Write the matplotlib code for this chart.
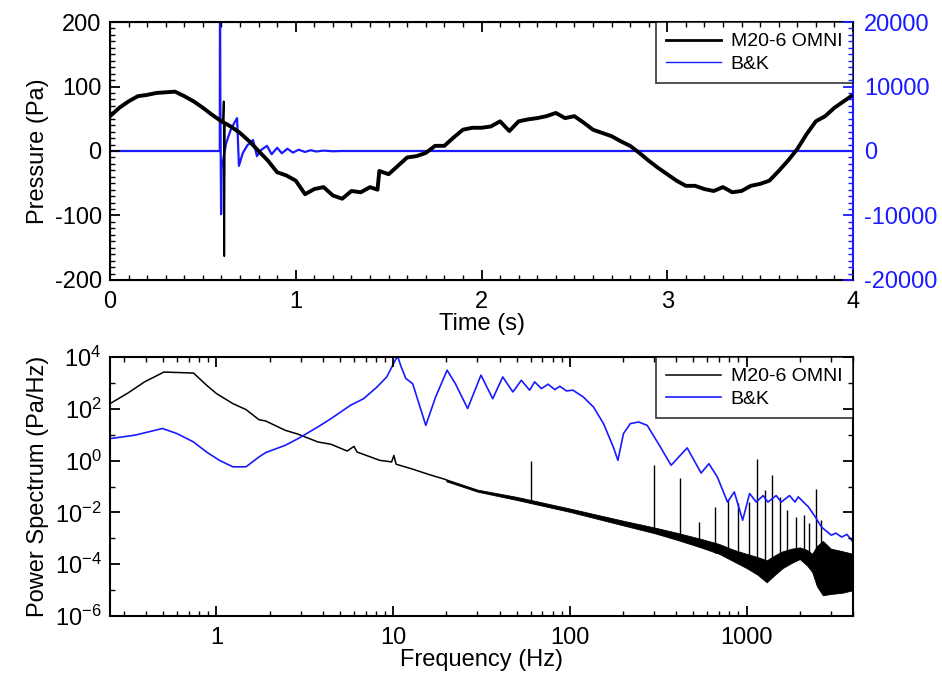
import numpy as np
import matplotlib
matplotlib.use("Agg")
import matplotlib.pyplot as plt
from matplotlib.lines import Line2D
from matplotlib.ticker import MultipleLocator, LogLocator, NullFormatter, FixedLocator

plt.rcParams['font.family'] = ['Liberation Sans', 'DejaVu Sans']
plt.rcParams['mathtext.fontset'] = 'custom'
plt.rcParams['mathtext.rm'] = 'Liberation Sans'
plt.rcParams['axes.unicode_minus'] = False

BLUE = '#1a1aff'
FIG_W, FIG_H = 942, 675

# ---- top panel: pressure time series ----
t_omni = [0.00, 0.05, 0.10, 0.15, 0.20, 0.25, 0.30, 0.35, 0.40, 0.45, 0.50, 0.55, 0.60,
          0.65, 0.70, 0.75, 0.80, 0.85, 0.90, 0.95, 1.00, 1.05, 1.10, 1.15, 1.20, 1.25,
          1.30, 1.35, 1.40, 1.44, 1.45, 1.50, 1.55, 1.60, 1.65, 1.70, 1.75, 1.80, 1.85,
          1.90, 1.95, 2.00, 2.05, 2.10, 2.15, 2.20, 2.25, 2.30, 2.35, 2.40, 2.45, 2.50,
          2.55, 2.60, 2.65, 2.70, 2.75, 2.80, 2.85, 2.90, 2.95, 3.00, 3.05, 3.10, 3.15,
          3.20, 3.25, 3.30, 3.35, 3.40, 3.45, 3.50, 3.55, 3.60, 3.65, 3.70, 3.75, 3.80,
          3.85, 3.90, 3.95, 4.00]
p_omni = [54, 67, 77, 85, 87, 90, 91, 92, 85, 77, 67, 56, 46,
          38, 28, 15, 0, -15, -33, -38, -46, -67, -59, -56, -69, -74,
          -62, -64, -56, -60, -31, -36, -23, -10, -8, -3, 8, 8, 21,
          33, 36, 36, 38, 46, 31, 46, 49, 51, 54, 59, 51, 54,
          44, 33, 28, 23, 15, 8, -3, -15, -26, -36, -46, -54, -54,
          -59, -62, -56, -64, -62, -54, -51, -46, -31, -15, 3, 26, 46,
          54, 67, 77, 87]
# single-sample spike of the OMNI trace
t_spike = [0.608, 0.612, 0.615, 0.618]
p_spike = [44, 77, -163, 42]

t_bk = [0.00, 0.591, 0.592, 0.594, 0.598, 0.601, 0.625, 0.650, 0.670, 0.684, 0.694,
        0.715, 0.740, 0.770, 0.791, 0.815, 0.845, 0.870, 0.900, 0.925, 0.955, 0.985,
        1.015, 1.050, 1.080, 1.110, 1.150, 1.200, 1.250, 4.00]
p_bk = [0, 0, 26000, 8000, -9800, -2600, 1200, 3300, 4400, 5100, -2300,
        -300, 900, 1700, -800, 200, 800, -500, 500, -350, 350, -250,
        200, -150, 120, -80, 60, -40, 0, 0]

# ---- bottom panel: power spectra ----
f_omni = [0.25, 0.316, 0.392, 0.505, 0.742, 0.88, 1.0, 1.24, 1.47, 1.74, 1.9, 2.45, 2.9,
          3.75, 4.45, 5.5, 6.0, 6.25, 6.8, 8.4, 9.8, 10.1, 10.4, 12.9, 16, 19.8, 20]
log_omni = [2.2, 2.61, 3.04, 3.42, 3.38, 2.91, 2.59, 2.2, 1.97, 1.58, 1.53, 1.17, 1.02,
            0.72, 0.63, 0.37, 0.55, 0.33, 0.24, 0.01, -0.05, 0.2, -0.14, -0.33, -0.54, -0.73, -0.75]

# noisy band above 20 Hz: lower / upper envelope (log10)
f_band = [20, 30, 50, 100, 200, 300, 400, 550, 700, 850, 1000, 1150, 1300, 1450, 1600,
          1800, 2000, 2200, 2350, 2500, 2700, 3000, 3500, 4000]
band_lo = [-0.80, -1.20, -1.52, -1.98, -2.50, -2.80, -3.05, -3.35, -3.60, -3.90, -4.15,
           -4.40, -4.70, -4.40, -4.15, -3.95, -3.80, -4.05, -4.30, -4.85, -5.20, -5.15,
           -5.10, -5.00]
band_hi = [-0.72, -1.12, -1.40, -1.85, -2.32, -2.58, -2.78, -3.02, -3.22, -3.45, -3.60,
           -3.72, -3.85, -3.65, -3.50, -3.40, -3.35, -3.45, -3.60, -3.30, -3.10, -3.40,
           -3.50, -3.60]

spike_f = [60, 300, 420, 535, 661, 787, 893, 1030, 1150, 1265, 1387, 1540, 1700, 1900,
           2118, 2260, 2467, 2630]
spike_top = [0.0, -0.18, -0.66, -2.37, -1.79, -1.53, -1.65, -1.6, 0.08, -1.15, -0.57,
             -1.4, -1.92, -2.18, -2.11, -2.4, -1.08, -2.3]
spike_base = [-1.6, -2.75, -3.05, -3.35, -3.55, -3.75, -3.9, -4.1, -4.2, -4.4, -4.3,
              -4.1, -3.9, -3.8, -3.7, -3.9, -4.3, -4.6]

f_bk = [0.25, 0.345, 0.495, 0.6, 0.742, 0.88, 1.04, 1.24, 1.47, 1.74, 1.9, 2.45, 2.9,
        3.75, 4.45, 5.75, 6.8, 8.1, 9.2, 10.4, 10.6, 11.1, 11.8, 12.9, 15.3, 17.4, 20.2,
        22.5, 26.4, 31.4, 36.6, 41.7, 47.6, 53.1, 59.2, 63.2, 69, 75.3, 82.2, 87.7, 95.7,
        104, 119, 136, 155, 176, 187, 201, 220, 245, 274, 325, 374, 461, 553, 612, 683,
        780, 852, 950, 1040, 1135, 1240, 1320, 1470, 1570, 1750, 1880, 1960, 2240, 2450,
        2650, 2800, 3020, 3200, 3450, 3700, 4000]
log_bk = [0.85, 0.98, 1.24, 1.04, 0.72, 0.33, 0.01, -0.24, -0.24, 0.14, 0.31, 0.59, 0.85,
          1.3, 1.62, 2.14, 2.39, 2.84, 3.23, 3.94, 4.03, 3.62, 3.17, 2.97, 1.36, 2.46, 3.49,
          2.97, 2.01, 3.3, 2.39, 3.23, 2.65, 3.1, 2.72, 3.04, 2.78, 2.95, 2.74, 2.87, 2.69,
          2.72, 2.46, 2.07, 1.43, 0.53, 0.01, 1.04, 1.43, 1.49, 1.36, 0.53, -0.18, 0.49,
          -0.48, -0.12, -0.63, -1.6, -1.21, -2.3, -1.27, -1.6, -1.35, -1.6, -1.35, -1.6,
          -1.35, -1.6, -1.4, -1.79, -2.18, -2.56, -2.7, -2.88, -2.8, -2.95, -2.85, -3.14]

fig = plt.figure(figsize=(FIG_W / 100, FIG_H / 100), dpi=100)
FS = 17
LFS = 14


def draw_ticks(ax, xsides=(), ysides=(), color='black', maj=10, mnr=5):
    # inward tick marks, placed in figure pixels from the axes' own transforms
    pos = ax.get_position()
    px0, px1 = pos.x0 * FIG_W, pos.x1 * FIG_W
    py0, py1 = pos.y0 * FIG_H, pos.y1 * FIG_H
    to_ax = ax.transScale + ax.transLimits
    x0, x1 = sorted(ax.get_xlim())
    y0, y1 = sorted(ax.get_ylim())
    groups = []
    for locs, ln, lw in ((ax.xaxis.get_majorticklocs(), maj, 1.3),
                         (ax.xaxis.get_minorticklocs(), mnr, 1.0)):
        for v in locs:
            if not (x0 <= v <= x1):
                continue
            fx = to_ax.transform([[v, y0]])[0][0]
            px = px0 + fx * (px1 - px0)
            for side in xsides:
                if side == 'bottom':
                    groups.append(([px, px], [py0, py0 + ln], lw))
                else:
                    groups.append(([px, px], [py1, py1 - ln], lw))
    for locs, ln, lw in ((ax.yaxis.get_majorticklocs(), maj, 1.3),
                         (ax.yaxis.get_minorticklocs(), mnr, 1.0)):
        for v in locs:
            if not (y0 <= v <= y1):
                continue
            fy = to_ax.transform([[x0, v]])[0][1]
            py = py0 + fy * (py1 - py0)
            for side in ysides:
                if side == 'left':
                    groups.append(([px0, px0 + ln], [py, py], lw))
                else:
                    groups.append(([px1, px1 - ln], [py, py], lw))
    for xs, ys, lw in groups:
        fig.add_artist(Line2D([x / FIG_W for x in xs], [y / FIG_H for y in ys],
                              transform=fig.transFigure, color=color, lw=lw,
                              solid_capstyle='butt', zorder=20))


# ================= top =================
ax1 = fig.add_axes([0.1168, 0.5852, 0.7887, 0.3822])
ax2 = ax1.twinx()
ax2.plot(t_bk, p_bk, color=BLUE, lw=1.6, zorder=2)
ax1.plot(t_omni, p_omni, color='black', lw=2.8, zorder=3)
ax1.plot(t_spike, p_spike, color='black', lw=1.3, zorder=3)
ax1.set_zorder(ax2.get_zorder() + 1)
ax1.patch.set_visible(False)

ax1.set_xlim(0, 4)
ax1.set_ylim(-200, 200)
ax2.set_ylim(-20000, 20000)
ax1.xaxis.set_major_locator(MultipleLocator(1))
ax1.xaxis.set_minor_locator(MultipleLocator(0.1))
ax1.yaxis.set_major_locator(MultipleLocator(100))
ax1.yaxis.set_minor_locator(MultipleLocator(10))
ax2.yaxis.set_major_locator(MultipleLocator(10000))
ax2.yaxis.set_minor_locator(MultipleLocator(1000))
ax1.tick_params(which='both', direction='in', length=0, labelsize=FS)
ax1.tick_params(axis='x', pad=8)
ax1.tick_params(axis='y', pad=6)
ax2.tick_params(which='both', direction='in', length=0, labelsize=FS, labelcolor=BLUE, pad=8)
ax2.spines['right'].set_color(BLUE)
ax2.spines['right'].set_linewidth(1.5)
for s in ['top', 'bottom', 'left']:
    ax1.spines[s].set_linewidth(1.5)
ax1.spines['right'].set_visible(False)
ax1.set_xlabel('Time (s)', fontsize=FS, labelpad=0)
ax1.set_ylabel('Pressure (Pa)', fontsize=FS, labelpad=4)

h1, = ax1.plot([], [], color='black', lw=2)
h2, = ax1.plot([], [], color=BLUE, lw=1)
leg = ax1.legend([h1, h2], ['M20-6 OMNI', 'B&K'], loc='upper right', fontsize=LFS,
                 frameon=True, fancybox=False, borderaxespad=0, handlelength=2.8,
                 handletextpad=0.5, labelspacing=0.25, borderpad=0.55)
leg.get_frame().set_edgecolor('black')
leg.get_frame().set_linewidth(1.2)

# ================= bottom =================
ax3 = fig.add_axes([0.1168, 0.0874, 0.7887, 0.3837])
ax3.fill_between(f_band, [10 ** v for v in band_lo], [10 ** v for v in band_hi],
                 color='black', lw=0.6, edgecolor='black')
ax3.vlines(spike_f, [10 ** v for v in spike_base], [10 ** v for v in spike_top],
           color='black', lw=1.0)
l_omni, = ax3.plot(f_omni, [10 ** v for v in log_omni], color='black', lw=1.1)
l_bk, = ax3.plot(f_bk, [10 ** v for v in log_bk], color=BLUE, lw=1.2)
ax3.set_xscale('log')
ax3.set_yscale('log')
ax3.set_xlim(0.25, 4000)
ax3.set_ylim(1e-6, 1e4)
ax3.xaxis.set_major_locator(FixedLocator([1, 10, 100, 1000]))
ax3.xaxis.set_minor_locator(LogLocator(base=10, subs=np.arange(2, 10), numticks=20))
ax3.xaxis.set_minor_formatter(NullFormatter())
ax3.set_xticklabels(['1', '10', '100', '1000'])
ax3.yaxis.set_major_locator(FixedLocator([1e-6, 1e-4, 1e-2, 1e0, 1e2, 1e4]))
ax3.yaxis.set_minor_locator(FixedLocator([1e-5, 1e-3, 1e-1, 1e1, 1e3]))
ax3.yaxis.set_minor_formatter(NullFormatter())
ax3.tick_params(which='both', direction='in', length=0, labelsize=FS)
ax3.tick_params(axis='x', pad=8)
ax3.tick_params(axis='y', pad=6)
for s in ax3.spines.values():
    s.set_linewidth(1.5)
ax3.set_xlabel('Frequency (Hz)', fontsize=FS, labelpad=0)
ax3.set_ylabel('Power Spectrum (Pa/Hz)', fontsize=FS, labelpad=4)
leg2 = ax3.legend([l_omni, l_bk], ['M20-6 OMNI', 'B&K'], loc='upper right', fontsize=LFS,
                  frameon=True, fancybox=False, borderaxespad=0, handlelength=2.8,
                  handletextpad=0.5, labelspacing=0.25, borderpad=0.55)
leg2.get_frame().set_edgecolor('black')
leg2.get_frame().set_linewidth(1.2)

draw_ticks(ax1, xsides=('bottom', 'top'), ysides=('left',))
draw_ticks(ax2, ysides=('right',), color=BLUE)
draw_ticks(ax3, xsides=('bottom', 'top'), ysides=('left', 'right'))

fig.savefig('out.png', dpi=100)
